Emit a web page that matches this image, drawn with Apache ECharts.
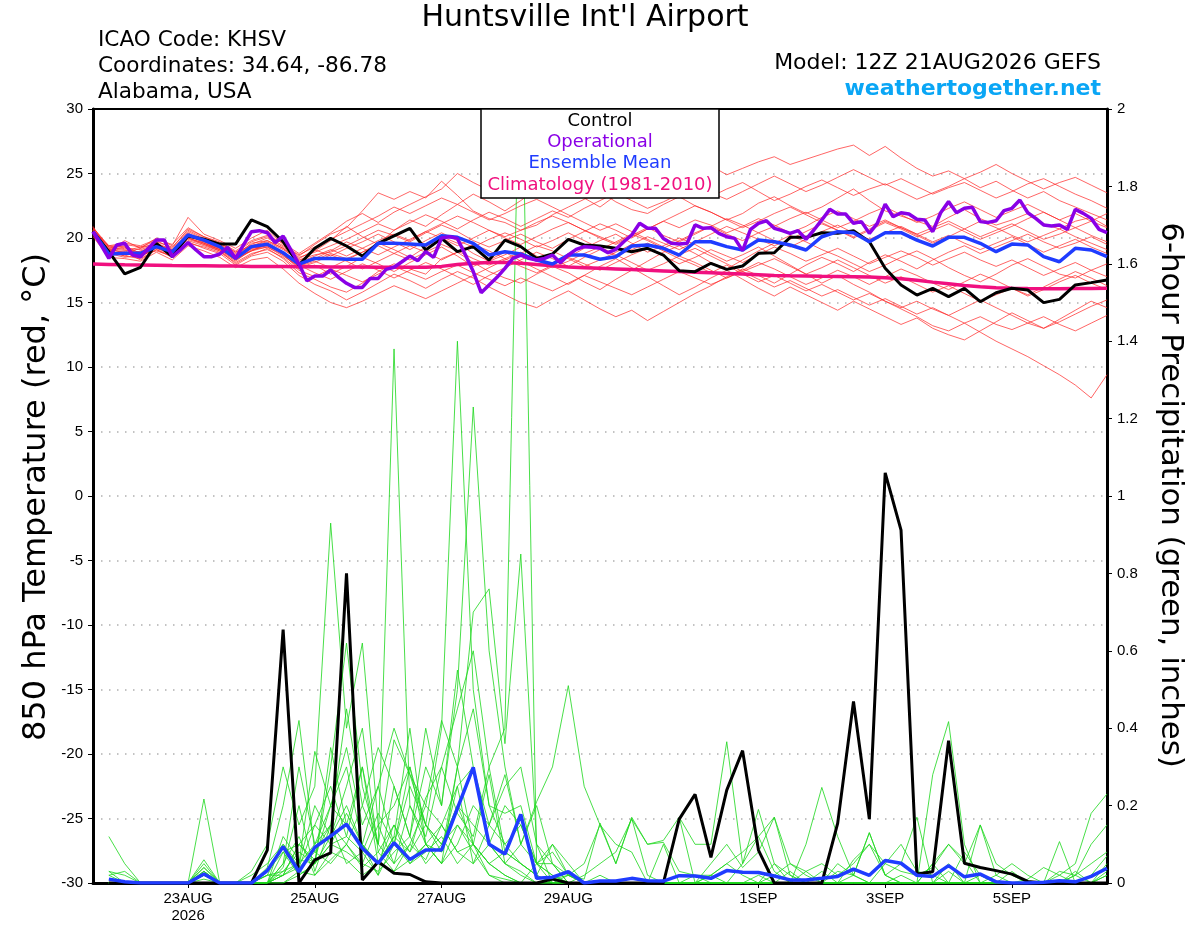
<!DOCTYPE html>
<html><head><meta charset="utf-8">
<script src="https://cdn.jsdelivr.net/npm/echarts@6/dist/echarts.min.js"></script>
<style>html,body{margin:0;padding:0;background:#fff}#c{width:1200px;height:927px}</style>
</head><body><div id="c"></div>
<script>
// ---- time axis (hours after 12Z 21AUG2026) ----
const xTickHours = [36, 84, 132, 180, 252, 300, 348];
const xTickLabels = ['23AUG\n2026', '25AUG', '27AUG', '29AUG', '1SEP', '3SEP', '5SEP'];

// ---- 850 hPa temperature (6-hourly, hour 0..384) ----
const controlTemp = [20.49,18.94,17.21,17.73,19.59,18.55,20.16,19.9,19.53,19.53,
 21.4,20.88,19.71,17.91,19.2,19.97,19.38,18.6,19.59,20.16,
 20.75,19.07,19.97,18.94,19.33,18.29,19.84,19.33,18.42,18.76,
 19.9,19.46,19.38,19.2,18.94,19.2,18.68,17.47,17.39,18.04,
 17.57,17.83,18.81,18.86,20.05,20.05,20.41,20.36,20.57,19.71,
 17.65,16.36,15.58,16.1,15.45,16.1,15.06,15.76,16.1,15.97,
 14.99,15.24,16.36,16.54,16.74];
const meanTemp = [20.49,18.76,18.81,18.81,19.33,18.94,20.23,19.84,19.33,18.42,
 19.33,19.51,18.86,17.98,18.42,18.42,18.35,18.35,19.59,19.59,
 19.53,19.46,20.18,20.05,19.59,18.68,18.94,18.76,18.29,17.98,
 18.68,18.68,18.35,18.55,19.38,19.46,19.2,18.68,19.71,19.71,
 19.33,19.07,19.84,19.71,19.46,19.07,20.1,20.49,20.41,19.71,
 20.41,20.41,19.84,19.38,20.05,20.05,19.59,18.94,19.53,19.46,
 18.55,18.16,19.2,19.07,18.55];
const climoTemp = [17.98,17.95,17.92,17.9,17.88,17.86,17.85,17.84,17.83,17.82,17.8,
 17.8,17.79,17.78,17.77,17.76,17.75,17.75,17.74,17.74,17.73,17.73,
 17.8,17.95,18.05,18.1,18.1,18.05,17.95,17.85,
 17.75,17.7,17.65,17.6,17.55,17.5,17.45,17.4,17.35,17.3,17.25,17.2,17.15,17.1,17.07,17.05,17.03,17.02,17.0,16.97,16.92,16.85,16.72,16.58,16.45,16.32,16.22,16.15,16.1,16.08,16.07,16.07,16.08,16.08,16.1];
// operational run, 3-hourly (hour 0..384)
const operTemp = [20.49,19.46,18.42,19.46,19.59,18.68,18.55,19.2,19.84,19.84,
 18.55,19.07,19.64,19.07,18.55,18.55,18.76,19.28,18.42,19.46,
 20.49,20.57,20.41,19.64,20.15,19.07,17.98,16.69,17.05,17.05,
 17.52,16.95,16.49,16.17,16.17,16.87,16.87,17.57,17.73,18.16,
 18.6,18.24,18.94,18.5,20.0,20.1,19.97,18.7,17.4,15.76,
 16.36,16.95,17.65,18.42,18.68,18.42,18.29,18.42,18.68,18.09,
 18.68,19.12,19.33,19.28,19.2,18.86,19.12,19.71,20.23,21.14,
 20.75,20.75,19.97,19.59,19.53,19.59,21.01,20.75,20.8,20.36,
 20.1,19.97,19.02,20.67,21.14,21.34,20.75,20.57,20.36,20.57,
 19.9,20.62,21.4,22.22,21.86,21.86,21.14,21.27,20.36,21.14,
 22.63,21.65,21.96,21.86,21.45,21.39,20.49,21.96,22.82,21.96,
 22.3,22.38,21.27,21.21,21.34,22.12,22.3,22.94,21.96,21.52,
 21.01,20.93,21.01,20.67,22.22,21.91,21.52,20.67,20.41];
// ensemble members (6-hourly, hour 0..384)
const tempMembers = [
 [20.9,19.0,19.8,19.2,20.0,19.4,21.6,20.3,19.8,19.2,20.0,20.6,19.5, 18.6,19.5,20.3,20.8,22.1,23.5,23.0,23.6,23.1,24.4,23.3,22.1,21.5, 21.2,20.6,21.0,21.8,22.4,23.0,23.6,22.8,22.2,21.9,22.6,23.2,22.5, 22.0,21.4,21.9,22.7,23.2,22.5,21.9,22.4,23.1,23.8,22.9,22.1,21.7, 21.3,20.9,21.6,22.2,21.5,21.0,21.4,21.9,21.1,20.7,21.3,21.6,20.9],
 [20.6,18.7,18.9,18.3,19.1,18.5,19.8,19.4,19.0,18.0,18.7,19.2,18.4, 17.3,16.8,16.2,15.8,16.5,17.4,18.0,17.6,17.2,18.4,18.9,18.1,17.4, 16.9,16.5,17.2,17.8,17.3,16.6,16.0,16.8,17.5,18.2,18.9,19.4,18.8, 18.1,17.6,18.3,19.0,19.6,20.2,19.7,19.1,18.6,18.0,17.4,17.9,18.5, 19.0,18.4,17.7,17.1,16.6,17.2,17.9,18.4,17.8,17.2,16.9,17.5,18.0],
 [20.7,19.3,19.1,18.9,19.6,19.1,20.5,19.9,19.5,18.6,19.6,19.8,19.2, 18.2,19.0,19.8,20.9,20.1,19.5,20.6,21.4,20.9,21.8,22.6,23.4,22.8, 22.1,22.9,23.8,24.6,23.9,23.1,22.4,23.3,24.1,24.8,25.3,24.6,25.1, 25.6,24.9,25.4,25.9,26.3,25.7,26.1,26.5,26.9,27.2,26.4,27.1,26.2, 25.4,24.8,25.2,24.6,23.9,24.4,23.7,23.1,23.6,22.9,22.4,21.9,21.4],
 [20.4,18.9,18.6,19.0,19.4,18.7,20.0,19.6,19.1,18.3,19.2,19.4,18.8, 17.9,18.3,18.8,18.4,18.9,19.6,19.1,18.5,19.3,20.1,19.6,18.8,18.2, 18.7,19.3,18.6,17.9,18.5,19.2,19.8,20.3,19.6,18.9,19.4,20.0,19.5, 18.8,18.2,18.7,19.3,18.6,17.9,17.2,16.5,17.1,16.4,15.8,15.1,14.5, 13.9,13.2,12.8,13.4,12.7,12.0,11.4,10.8,10.1,9.4,8.6,7.6,9.4],
 [20.5,19.1,19.3,18.6,19.2,18.9,20.1,19.7,19.2,18.5,19.0,19.6,18.7, 17.6,17.9,17.2,17.8,18.5,18.0,17.4,18.1,18.7,19.3,18.6,17.8,18.3, 18.9,18.2,17.6,17.0,16.4,17.1,17.8,18.4,17.7,17.0,16.3,15.6,16.2, 16.9,17.5,16.8,16.1,15.5,16.2,15.6,15.0,14.4,15.1,14.5,13.9,13.3, 13.8,13.0,12.5,12.1,12.8,13.5,14.2,13.6,13.0,13.7,14.4,15.1,14.6],
 [20.3,18.8,18.5,18.7,19.0,18.6,19.7,19.2,18.8,17.9,18.6,18.9,18.2, 17.1,16.4,15.9,15.2,15.8,16.5,17.2,16.7,16.1,16.8,17.4,16.9,16.2, 15.6,15.0,14.6,15.3,15.9,15.2,14.5,13.9,14.4,13.6,14.3,15.0,15.7, 16.3,17.0,17.6,17.1,16.5,17.2,17.9,18.5,18.0,17.4,18.1,18.7,18.2, 17.6,18.3,18.9,19.4,18.8,19.3,19.8,20.3,19.7,19.2,19.6,20.1,19.5],
 [20.8,19.4,19.6,19.4,19.9,19.5,20.8,20.1,19.7,19.0,19.8,20.2,19.6, 18.8,19.6,20.4,21.3,21.9,21.2,22.0,22.6,23.2,23.8,25.0,24.3,23.7, 24.2,24.9,25.5,26.0,25.4,24.8,24.1,24.7,25.3,24.6,23.9,24.5,23.8, 23.2,23.8,24.3,23.6,22.9,23.4,24.0,24.5,23.9,23.3,23.8,24.2,23.6, 23.0,23.5,24.0,24.6,25.1,25.7,25.0,24.4,23.8,24.3,24.7,24.1,23.5],
 [20.6,19.0,19.2,19.1,19.5,19.0,20.3,19.8,19.4,18.7,19.4,19.7,19.1, 18.3,18.7,18.9,19.4,20.0,20.6,20.2,19.7,20.4,21.0,20.5,19.8,19.3, 19.8,20.3,19.7,19.2,19.9,20.5,21.1,20.6,20.0,20.7,21.3,20.8,21.4, 21.0,20.4,20.9,21.5,21.0,20.4,20.9,21.6,22.1,21.5,20.9,21.4,20.8, 20.3,20.8,21.3,20.7,20.1,20.6,21.1,20.5,19.9,20.3,20.8,20.2,19.7],
 [20.2,18.6,18.9,18.5,19.3,18.8,19.9,19.5,19.0,18.2,19.1,19.3,18.6, 17.8,18.2,17.7,18.3,18.9,19.4,18.8,18.3,18.9,19.5,19.0,18.4,17.9, 18.4,17.8,17.3,17.9,18.5,18.0,17.5,18.1,18.7,19.2,18.6,18.0,18.5, 19.1,18.6,18.1,18.7,19.3,18.8,18.2,18.7,19.2,18.6,18.0,18.5,19.0, 18.5,17.9,18.4,18.9,18.3,17.8,18.3,17.7,17.1,17.6,18.1,17.5,17.0],
 [20.7,19.2,19.4,18.8,19.7,19.3,20.6,20.0,19.5,18.8,19.5,20.0,19.3, 18.5,18.9,19.4,19.9,20.5,21.1,20.6,21.2,21.8,21.3,20.7,21.4,22.0, 21.5,20.9,21.5,22.1,21.6,22.3,22.9,23.5,22.9,22.3,22.8,23.4,24.0, 23.5,23.0,23.6,24.2,24.8,24.2,23.6,24.1,24.7,25.3,24.7,24.1,24.6, 24.0,23.4,23.9,24.3,23.7,23.1,23.6,24.2,24.6,24.0,23.4,22.9,22.3],
 [20.4,18.9,18.7,18.9,19.2,18.7,20.0,19.5,19.1,18.4,19.0,19.5,18.9, 17.9,17.3,16.8,17.4,18.0,17.5,16.9,17.5,18.1,17.6,17.0,16.4,17.1, 17.7,18.3,18.9,18.4,17.8,18.5,19.1,19.7,20.3,19.8,19.2,19.8,20.4, 20.9,21.5,21.0,20.4,20.9,21.5,22.0,21.4,20.8,21.3,21.9,22.4,21.8, 21.2,21.7,22.3,22.8,22.2,21.6,22.1,22.6,22.0,21.4,21.9,21.3,20.8],
 [20.5,19.0,19.0,19.3,19.5,19.1,20.2,19.9,19.6,18.9,19.4,19.8,19.2, 18.4,19.1,18.6,19.2,19.7,20.3,19.7,19.1,19.8,20.4,19.8,19.3,19.9, 20.4,19.9,19.3,19.8,20.4,19.8,19.2,18.6,19.1,19.6,19.0,18.4,17.9, 17.3,17.9,17.2,16.6,17.1,16.5,15.9,16.4,15.8,15.2,15.7,15.1,14.6, 15.1,14.5,14.0,14.6,15.2,14.6,14.0,13.4,13.9,13.3,12.8,13.4,14.0],
 [20.3,19.2,18.8,19.2,19.6,18.9,20.4,19.7,19.3,18.6,19.3,19.6,18.9, 18.1,18.6,19.1,18.6,19.2,19.8,20.3,19.8,20.5,20.0,19.4,20.0,20.6, 20.0,19.5,20.1,20.7,21.2,20.6,20.1,19.6,20.2,20.8,20.2,19.7,20.3, 20.9,20.3,19.8,20.4,19.8,19.3,19.9,20.5,21.0,20.4,19.9,20.4,20.9, 20.3,19.7,20.2,19.6,19.1,19.6,20.1,19.5,18.9,19.4,19.9,19.3,18.8],
 [20.6,19.1,18.6,18.4,19.1,18.6,19.6,19.3,18.9,18.1,18.8,19.1,18.5, 17.5,17.0,17.6,17.1,16.6,17.2,17.8,17.3,16.8,17.4,17.9,17.3,16.8, 16.3,16.9,16.4,15.9,16.5,17.1,16.6,16.1,15.6,16.2,16.8,17.4,16.9, 16.4,16.9,17.5,18.1,17.6,17.0,16.4,16.9,17.5,17.0,16.4,17.0,17.6, 17.1,16.5,16.0,16.6,17.2,16.7,16.1,15.6,16.2,16.8,17.4,16.9,16.3],
 [20.8,19.3,19.5,19.3,19.8,19.2,20.7,20.1,19.6,18.9,19.7,20.1,19.4, 18.7,19.3,19.9,20.5,21.1,21.7,22.4,21.9,22.5,23.1,22.6,22.0,21.4, 21.9,22.5,23.0,22.4,21.8,21.2,20.6,21.1,20.5,19.9,19.3,18.7,19.2, 18.6,18.0,17.4,17.9,18.4,17.8,17.2,17.7,18.3,17.7,17.1,16.5,17.0, 16.4,15.8,16.3,15.7,15.1,15.6,16.1,15.5,16.0,16.6,17.1,16.5,16.0],
 [20.1,18.5,18.4,18.2,18.9,18.3,19.4,19.0,18.5,17.7,18.3,18.5,17.6, 16.5,15.7,15.0,14.6,15.1,15.7,16.3,15.8,15.3,15.9,16.5,17.1,17.7, 18.3,18.8,19.4,19.0,18.4,17.8,18.3,18.9,19.5,20.1,19.6,19.1,19.7, 20.3,20.9,20.4,19.9,19.4,19.9,20.5,21.1,20.6,20.1,20.7,21.3,20.8, 20.2,19.6,20.1,20.7,21.3,20.8,20.2,19.7,20.2,20.7,20.1,19.6,19.1],
 [20.5,19.4,19.3,18.7,19.4,19.0,20.3,19.6,19.2,18.4,19.2,19.4,18.8, 17.8,18.4,19.0,19.7,19.2,18.7,19.3,19.9,20.5,21.1,21.7,21.2,20.6, 20.1,20.6,21.2,21.7,21.2,20.6,20.0,19.5,20.1,20.7,21.3,21.9,22.5, 22.0,21.4,20.8,21.3,21.9,22.4,21.8,21.2,20.6,20.0,20.6,21.2,20.7, 20.1,20.6,21.1,20.5,19.9,20.4,20.9,21.5,22.0,21.4,20.8,21.3,21.9],
 [20.4,18.8,19.0,18.6,19.3,18.9,20.0,19.6,19.1,18.3,19.0,19.3,18.7, 17.7,18.1,18.7,18.2,17.6,18.2,18.8,19.4,18.9,18.3,18.9,19.5,19.0, 18.4,18.9,18.3,17.7,18.2,18.8,19.3,18.7,18.1,17.5,18.0,18.6,18.1, 17.5,16.9,17.4,16.8,16.2,16.7,16.1,15.5,16.0,15.4,14.8,15.3,14.7, 14.1,14.6,14.0,13.4,13.9,13.3,12.9,13.4,13.0,13.5,14.1,14.7,15.2]
];

// ---- 6-hour precipitation (inches, hour 6..384) ----
const controlPrecip = [0,0,0,0,0,0,0,0, 0,0,.085,.655,0,.06,.078,.80,
 .008,.055,.025,.022,.003,0,0,0, 0,0,0,0,.01,0,0,0,
 0,0,0,0,.165,.229,.066,.24, .342,.085,0,0,0,0,.154,.469,
 .165,1.06,.912,.023,.029,.368,.051,.04, .032,.023,.004,0,0,0,0,0];
const meanPrecip = [.01,.003,0,0,0,0,.023,0, 0,0,.032,.094,.029,.092,.121,.152,
 .09,.051,.104,.061,.085,.085,.193,.299, .10,.075,.177,.012,.015,.029,0,.005,
 .005,.012,.006,.005,.019,.018,.012,.032, .028,.027,.018,.008,.008,.012,.017,.036,
 .02,.058,.051,.02,.017,.045,.016,.023, .003,0,0,.002,.006,.003,.017,.038];
const precipMembers = [
 [.12,.05,0,0,0,0,.02,0, 0,0,.03,.08,.02,.05,.12,.2, .1,.05,.15,.08,.22,.3,.45,.6, .3,.4,2.3,.05,.05,.02,0,0, 0,0,0,0,0,.02,0,0, 0,0,0,0,0,.03,0,0, 0,0,.02,0,0,0,0,0, 0,0,0,0,0,.02,.05,.08],
 [.02,0,0,0,0,0,.03,0, 0,.02,.05,.1,.04,.15,.25,.12, .3,.1,1.38,.2,.1,.05,.15,.08, .02,0,0,.05,.1,.02,0,0, 0,0,0,0,0,0,0,0, 0,0,.05,.02,0,0,0,0, 0,0,0,0,0,.03,0,0, 0,0,0,0,0,0,0,0],
 [.03,.02,0,0,0,0,.05,0, 0,0,0,.05,.3,.1,.2,.35, .15,.25,.1,.3,.15,.4,1.40,.5, .2,.1,.15,.05,0,0,0,0, 0,0,0,0,0,0,0,0, 0,.02,0,0,0,0,0,0, 0,0,0,0,0,0,0,0, 0,0,0,0,0,.02,0,.03],
 [0,0,0,0,0,0,.04,0, 0,0,.04,.2,.42,.08,.15,.1, .2,.35,.25,.12,.3,.2,.5,1.23, .6,.3,.1,.2,.05,0,0,0, 0,0,0,0,0,0,0,0, 0,0,0,0,0,0,0,.02, 0,0,0,0,0,0,0,0, 0,0,0,0,0,0,0,0],
 [0,0,0,0,0,0,.06,0, 0,.03,.1,.3,.15,.25,.93,.4, .62,.15,.2,.3,.1,.15,.25,.3, .15,.28,.1,.05,.02,0,0,0, 0,0,0,.1,0,0,.02,0, 0,0,0,0,0,0,0,0, 0,0,0,0,.05,0,0,0, 0,0,0,0,0,0,0,0],
 [0,0,0,0,0,0,.02,0, 0,0,.02,.1,.05,.34,.2,.3, .1,.25,.4,.28,.2,.42,.3,.7, .76,.36,.85,.1,.05,0,0,0, 0,0,0,0,0,0,0,0, 0,0,0,0,0,0,0,0, 0,0,0,0,0,0,0,0, 0,0,0,0,0,0,0,.02],
 [0,0,0,0,0,0,0,0, 0,0,0,.02,.1,.05,.3,.62, .25,.1,.37,.28,.15,.1,.2,.15, .1,.05,.1,.21,.3,.51,.25,.15, .1,.08,0,0,0,0,0,0, 0,0,0,0,0,0,0,0, 0,0,0,0,0,0,0,0, 0,0,0,0,0,.03,0,0],
 [0,0,0,0,0,0,0,0, 0,0,0,.03,.05,.1,.15,.05, .08,.02,.1,.05,.08,.12,.05,.1, .05,.02,0,0,0,.02,.05,.15, .05,.17,.1,.11,.17,.1,.1,.365, .05,.12,.17,.02,0,0,0,0, 0,0,0,0,0,0,0,0, 0,0,0,0,0,0,0,.05],
 [0,0,0,0,0,0,0,0, 0,0,0,0,.02,.05,.1,.08, .05,.15,.05,.1,.2,.15,.08,.05, .1,.05,.02,0,0,0,0,0, 0,0,0,0,0,0,0,0, 0,0,0,0,.1,.247,.12,.02, 0,0,0,0,.28,.417,.1,0, 0,0,0,0,0,0,0,0],
 [0,0,0,0,0,0,.03,0, 0,0,0,.02,.04,.08,.05,.1, .05,.03,.08,.12,.05,.1,.15,.1, .05,.02,0,0,.01,.02,.01,.155, .05,.167,.02,0,.17,0,0,0, .05,.19,.05,0,0,0,.05,.02, .13,.02,.05,.17,0,0,0,.15, .02,0,0,0,.107,0,0,0],
 [0,0,0,0,0,0,0,0, 0,0,0,0,.03,.02,.06,.1, .04,.08,.03,.06,.1,.05,.1,.2, .15,.1,.05,.02,0,0,0,0, 0,0,0,0,0,0,.05,.1, .04,.08,.17,.05,.02,0,.03,.02, .13,.02,0,0,.05,.1,.06,0, .02,.05,.02,0,.02,.05,.18,.23],
 [.02,.03,0,0,0,0,.02,0, 0,0,.02,.03,.08,.05,.1,.18, .1,.05,.12,.08,.15,.1,.2,.1, .05,.08,.05,.02,0,0,.02,.05, .08,.165,.1,.105,.03,.02,.02,.05, .02,0,0,0,.03,.05,.02,.05, .1,.05,.03,.02,.04,.1,.05,.15, .05,.02,0,0,.03,.02,.1,.15],
 [0,0,0,0,0,0,.01,0, 0,0,0,.05,.12,.02,.08,.06, .02,.05,.03,.1,.06,.15,.08,.1, .02,.01,0,0,0,0,0,0, 0,0,0,0,0,0,.02,.05, .08,.12,.03,0,0,0,0,0, 0,.05,.1,.03,.02,0,.08,.02, 0,.03,0,0,0,0,.02,.07],
 [.03,0,0,0,0,0,.02,0, 0,0,.02,.02,.05,.2,.12,.25, .4,.08,.15,.05,.1,.05,.3,.1, .28,.05,.03,0,0,0,0,.02, 0,0,0,0,0,0,0,0, 0,0,.02,.05,.03,0,0,.06, .1,.02,0,0,0,0,0,0, 0,0,.01,.04,.02,0,0,0],
 [0,0,0,0,0,0,.04,0, 0,0,0,.12,.06,.05,.35,.15, .1,.02,.25,.12,.4,.2,.55,.3, .1,.2,.15,.05,.02,0,0,0, 0,0,0,0,0,0,0,0, 0,0,0,0,0,0,0,0, 0,0,0,0,0,.05,0,.02, 0,0,0,0,0,0,0,0],
 [0,0,0,0,0,0,.217,0, 0,0,0,.04,.2,.03,.15,.45, .2,.1,.05,.2,.12,.3,.18,.12, .3,.08,.05,.02,.1,.05,0,0, 0,0,0,0,0,0,0,0, 0,0,0,.03,0,0,0,0, 0,0,0,0,0,0,0,0, 0,0,0,0,0,0,0,0],
 [0,0,0,0,0,0,.03,0, 0,0,0,.08,.1,.15,.1,.12, .08,.18,.1,.25,.15,.08,.3,.45, .2,.18,.2,.05,.08,.02,0,0, 0,0,0,0,0,0,0,0, 0,0,0,0,0,0,0,0, 0,0,0,0,0,0,0,0, 0,0,0,0,0,0,0,.02],
 [0,0,0,0,0,0,0,0, 0,0,0,.02,.1,.06,.2,.15, .3,.05,.12,.4,.1,.08,.25,.05, .15,.25,.3,.1,0,0,0,0, 0,0,0,0,0,0,0,0, 0,0,0,0,0,0,0,0, 0,0,0,0,0,0,0,0, 0,0,0,0,0,0,0,0]
];

// ---- texts ----
const titleText = "Huntsville Int'l Airport";
const infoLines = ['ICAO Code: KHSV', 'Coordinates: 34.64, -86.78', 'Alabama, USA'];
const modelText = 'Model: 12Z 21AUG2026 GEFS';
const siteText = 'weathertogether.net';
const legendItems = [
  {name: 'Control', color: '#000000'},
  {name: 'Operational', color: '#8a00e6'},
  {name: 'Ensemble Mean', color: '#1f3cff'},
  {name: 'Climatology (1981-2010)', color: '#f0107f'}
];
const leftAxisName = '850 hPa Temperature (red, °C)';
const rightAxisName = '6-hour Precipitation (green, inches)';

// ---- build ----
const FONT = '"Liberation Sans", Arial, Helvetica, sans-serif';
const WFONT = '"DejaVu Sans", "Liberation Sans", sans-serif';
const at6 = (arr, off) => arr.map((v, k) => [(k + off) * 6, v]);
const at3 = arr => arr.map((v, k) => [k * 3, v]);
const thin = (name, data, color, yIdx) => ({
  name, type: 'line', data, yAxisIndex: yIdx, showSymbol: false, symbol: 'none',
  lineStyle: {color, width: 0.9}, silent: true, animation: false, z: 2
});
const series = [];
tempMembers.forEach((m, k) => series.push(thin('T member ' + (k + 1), at6(m, 0), 'rgba(255,40,40,0.8)', 0)));
precipMembers.forEach((m, k) => series.push(thin('P member ' + (k + 1), at6(m, 1), 'rgba(30,215,30,0.9)', 1)));
const thick = (name, data, color, width, yIdx, z) => ({
  name, type: 'line', data, yAxisIndex: yIdx, showSymbol: false, symbol: 'none',
  lineStyle: {color, width}, silent: true, animation: false, z
});
series.push(thick('Climatology (1981-2010)', at6(climoTemp, 0), '#f0107f', 3.5, 0, 3));
series.push(thick('Control', at6(controlTemp, 0), '#000000', 3, 0, 4));
series.push(thick('Ensemble Mean', at6(meanTemp, 0), '#1f3cff', 3.5, 0, 4));
series.push(thick('Operational', at3(operTemp), '#8a00e6', 3.5, 0, 4));
series.push(thick('Control precip', at6(controlPrecip, 1), '#000000', 3, 1, 5));
series.push(thick('Ensemble Mean precip', at6(meanPrecip, 1), '#1f3cff', 3.5, 1, 5));

const graphics = [
  {type: 'line', shape: {x1: 92, y1: 109, x2: 1108, y2: 109}, z: 99, style: {stroke: '#000', lineWidth: 2}},
  {type: 'text', x: 585, y: 18, z: 100, style: {text: titleText, font: '30px ' + WFONT, fill: '#000', textAlign: 'center', textVerticalAlign: 'middle'}},
  {type: 'text', x: 1101, y: 63, z: 100, style: {text: modelText, font: '22px ' + WFONT, fill: '#000', textAlign: 'right', textVerticalAlign: 'middle'}},
  {type: 'text', x: 1101, y: 89, z: 100, style: {text: siteText, font: 'bold 22px ' + WFONT, fill: '#0aa6f5', textAlign: 'right', textVerticalAlign: 'middle'}},
  {type: 'text', x: 37, y: 497, rotation: Math.PI / 2, z: 100, style: {text: leftAxisName, font: '32px ' + WFONT, fill: '#000', textAlign: 'center', textVerticalAlign: 'middle'}},
  {type: 'text', x: 1170, y: 495, rotation: -Math.PI / 2, z: 100, style: {text: rightAxisName, font: '30.8px ' + WFONT, fill: '#000', textAlign: 'center', textVerticalAlign: 'middle'}},
  {type: 'rect', shape: {x: 481, y: 109, width: 238, height: 89}, z: 100, style: {fill: '#fff', stroke: '#000', lineWidth: 1.5}}
];
infoLines.forEach((t, k) => graphics.push({type: 'text', x: 98, y: 40 + 26 * k, z: 100,
  style: {text: t, font: '21.6px ' + WFONT, fill: '#000', textAlign: 'left', textVerticalAlign: 'middle'}}));
legendItems.forEach((it, k) => graphics.push({type: 'text', x: 600, y: 121 + 21.3 * k, z: 101,
  style: {text: it.name, font: '18px ' + WFONT, fill: it.color, textAlign: 'center', textVerticalAlign: 'middle'}}));

const chart = echarts.init(document.getElementById('c'), null, {renderer: 'canvas'});
chart.setOption({
  animation: false,
  backgroundColor: '#fff',
  textStyle: {fontFamily: FONT},
  grid: {left: 93, right: 93, top: 109, bottom: 44, show: true, borderColor: '#000', borderWidth: 2, backgroundColor: 'transparent'},
  xAxis: {
    type: 'value', min: 0, max: 384,
    axisLine: {show: true, onZero: false, lineStyle: {color: '#000', width: 3}},
    axisTick: {show: true, customValues: xTickHours, length: 5, lineStyle: {color: '#000', width: 1}},
    axisLabel: {customValues: xTickHours, formatter: v => { const i = xTickHours.indexOf(v); return i >= 0 ? xTickLabels[i] : ''; },
      fontSize: 15, color: '#000', margin: 7, lineHeight: 17, fontFamily: FONT},
    splitLine: {show: false}
  },
  yAxis: [
    {type: 'value', min: -30, max: 30, interval: 5, position: 'left',
     axisLine: {show: true, onZero: false, lineStyle: {color: '#000', width: 3}},
     axisTick: {show: true, length: 5, lineStyle: {color: '#000', width: 1}},
     axisLabel: {fontSize: 15, color: '#000', margin: 10, fontFamily: FONT},
     splitLine: {show: true, lineStyle: {color: '#b0b0b0', type: [1.5, 6.5], width: 1.5}}},
    {type: 'value', min: 0, max: 2, interval: 0.2, position: 'right',
     axisLine: {show: true, onZero: false, lineStyle: {color: '#000', width: 3}},
     axisTick: {show: true, length: 5, lineStyle: {color: '#000', width: 1}},
     axisLabel: {fontSize: 15, color: '#000', margin: 10, fontFamily: FONT, formatter: v => String(Math.round(v * 10) / 10)},
     splitLine: {show: false}}
  ],
  series,
  graphic: graphics
});
</script></body></html>
